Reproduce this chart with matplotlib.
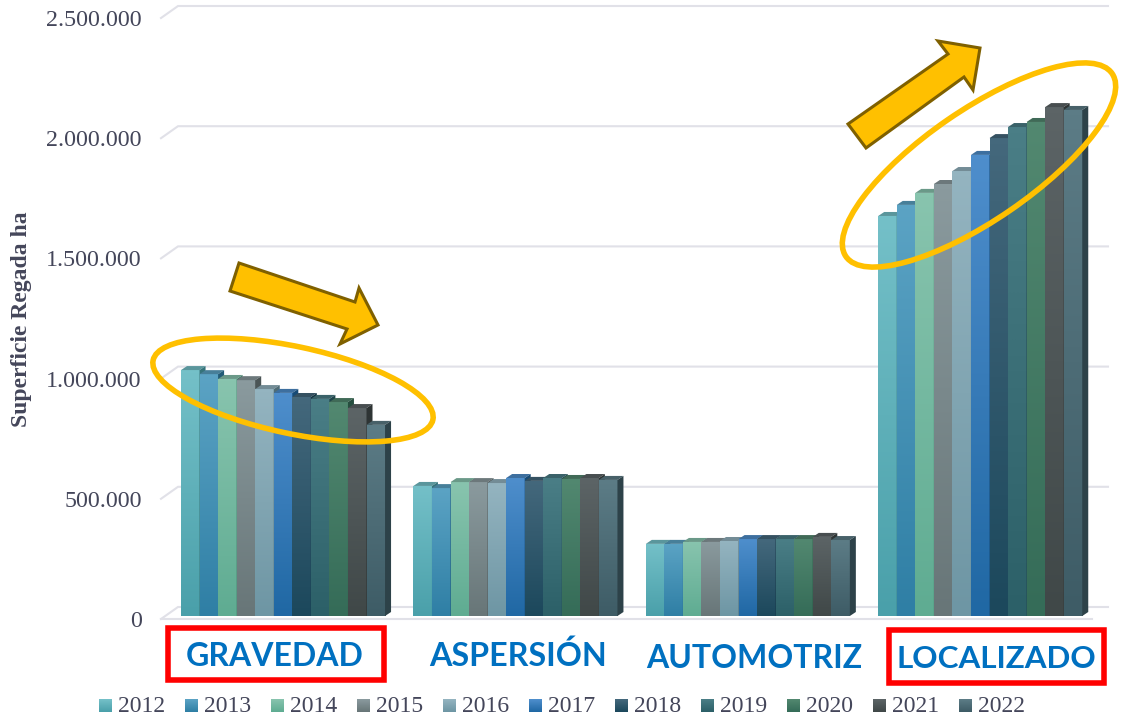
"""
plot.py
Superficie regada por tipo de riego, 2012-2022, 3D-look clustered columns.
Output: out.png
"""

import numpy as np
import matplotlib
matplotlib.use("Agg")
import matplotlib.pyplot as plt
from matplotlib.colors import LinearSegmentedColormap, to_rgb
from matplotlib.patches import Ellipse, Polygon, Rectangle
from matplotlib.ticker import FuncFormatter
from matplotlib.transforms import Affine2D

YEARS = ["2012", "2013", "2014", "2015", "2016", "2017",
         "2018", "2019", "2020", "2021", "2022"]
METHODS = ["GRAVEDAD", "ASPERSIÓN", "AUTOMOTRIZ", "LOCALIZADO"]

GRAVEDAD = [1023000, 1006000, 986000, 981000, 944000, 928000,
            911000, 903000, 890000, 865000, 795000]
ASPERSION = [541000, 532000, 557000, 557000, 553000, 574000,
             562000, 574000, 570000, 574000, 566000]
AUTOMOTRIZ = [300000, 300000, 308000, 308000, 312000, 320000,
              320000, 320000, 320000, 329000, 316000]
LOCALIZADO = [1664000, 1710000, 1760000, 1797000, 1851000, 1918000,
              1988000, 2034000, 2055000, 2117000, 2105000]
VALUES = [GRAVEDAD, ASPERSION, AUTOMOTRIZ, LOCALIZADO]

YTICKS = [0, 500000, 1000000, 1500000, 2000000, 2500000]

TOP_COLORS = ["#74C0C8", "#5BA3C4", "#88C4AE", "#8A9A9E", "#94B4C0", "#4E8ECC",
              "#44687C", "#4A7E86", "#528870", "#5C6466", "#5C7C86"]
BOTTOM_COLORS = ["#4AA0AA", "#2F7FA5", "#5FAC92", "#687678", "#6E96A4", "#2068A4",
                 "#1C485C", "#2C6068", "#356C58", "#404848", "#3E5C66"]

# layout, in pixels of the 1128x721 picture
W, H = 1128, 721
AX_LEFT, AX_BOTTOM = 150, 640
ZERO_Y = 619
VALUE_PER_PX = 500000 / 120.2
BAR_PX = 18.55
FIRST_BAR_PX = 181
GROUP_STEP = 232.4 / BAR_PX
BAR_LIFT = 3 * VALUE_PER_PX       # bars stand a little behind the front edge
DEPTH_X = 6 / BAR_PX
DEPTH_Y = 4 * VALUE_PER_PX
GRID_DX = 17 / BAR_PX
GRID_DY = 12 * VALUE_PER_PX
GRID_END = (1108 - FIRST_BAR_PX) / BAR_PX
FLOOR_END = (1092 - FIRST_BAR_PX) / BAR_PX
GRID_START = (161 - FIRST_BAR_PX) / BAR_PX

GRID_COLOR = "#E1E1E8"
TEXT_COLOR = "#44465A"
BLUE = "#0070C0"
GOLD = "#FFC000"
GOLD_EDGE = "#7F6000"
SERIF = "Liberation Serif"

LEGEND_STEP = 86
LEGEND_START = 99
LABEL_X = [275, 518, 754, 996]
LABEL_Y = [656, 656, 659, 659]
LABEL_SIZE = [23, 23.2, 23, 22.6]


def darker(color, factor):
    return tuple(c * factor for c in to_rgb(color))


def draw_bar(ax, x, value, i):
    base, top = BAR_LIFT, BAR_LIFT + value
    bar = ax.bar(x, value, width=1.0, bottom=base, align="edge",
                 color=TOP_COLORS[i], linewidth=0, zorder=3)[0]
    cmap = LinearSegmentedColormap.from_list(
        "fade", [BOTTOM_COLORS[i], TOP_COLORS[i]])
    im = ax.imshow(np.linspace(1, 0, 64).reshape(-1, 1), cmap=cmap, vmin=0, vmax=1,
                   extent=(x, x + 1, base, top), aspect="auto",
                   interpolation="bilinear", zorder=3)
    im.set_clip_path(bar)
    ax.add_patch(Polygon([(x, top), (x + 1, top), (x + 1 + DEPTH_X, top + DEPTH_Y),
                          (x + DEPTH_X, top + DEPTH_Y)],
                         facecolor=darker(TOP_COLORS[i], 0.78), linewidth=0, zorder=3))
    ax.add_patch(Polygon([(x + 1, base), (x + 1 + DEPTH_X, base + DEPTH_Y),
                          (x + 1 + DEPTH_X, top + DEPTH_Y), (x + 1, top)],
                         facecolor=darker(BOTTOM_COLORS[i], 0.72), linewidth=0, zorder=3))


if __name__ == "__main__":
    fig = plt.figure(figsize=(W / 100, H / 100), dpi=100, facecolor="white")
    ax = fig.add_axes([AX_LEFT / W, (H - AX_BOTTOM) / H, 1 - AX_LEFT / W, AX_BOTTOM / H])
    ax.set_facecolor("none")
    xlim = ((AX_LEFT - FIRST_BAR_PX) / BAR_PX, (W - FIRST_BAR_PX) / BAR_PX)
    ylim = (-(AX_BOTTOM - ZERO_Y) * VALUE_PER_PX, ZERO_Y * VALUE_PER_PX)

    # gridlines: short slanted stub on the side wall, then along the back wall
    for v in YTICKS:
        ax.plot([GRID_START, GRID_START + GRID_DX, GRID_END],
                [v, v + GRID_DY, v + GRID_DY],
                color=GRID_COLOR, lw=1.5, zorder=1, solid_joinstyle="miter")
    ax.plot([GRID_START, FLOOR_END], [0, 0], color=GRID_COLOR, lw=1.5, zorder=1)

    for g, values in enumerate(VALUES):
        for i, value in enumerate(values):
            draw_bar(ax, g * GROUP_STEP + i, value, i)

    ax.set_xlim(xlim)
    ax.set_ylim(ylim)
    ax.set_xticks([])
    ax.set_yticks(YTICKS)
    ax.yaxis.set_major_formatter(FuncFormatter(lambda v, _: f"{v:,.0f}".replace(",", ".")))
    ax.tick_params(axis="y", length=0, pad=6, labelsize=17.3, labelcolor=TEXT_COLOR)
    for label in ax.get_yticklabels():
        label.set_family(SERIF)
    for spine in ax.spines.values():
        spine.set_visible(False)
    ax.set_ylabel("Superficie Regada ha", family=SERIF, weight="bold",
                  fontsize=17, color=TEXT_COLOR, va="center")
    ax.yaxis.set_label_coords((22 - AX_LEFT) / (W - AX_LEFT), (AX_BOTTOM - 319) / AX_BOTTOM)

    # annotations sit in picture pixels, y pointing down
    px = Affine2D().scale(1, -1).translate(0, H)

    for name, x, y, size in zip(METHODS, LABEL_X, LABEL_Y, LABEL_SIZE):
        ax.text(x, y, name, transform=px, family="Lato", weight="bold", fontsize=size,
                color=BLUE, ha="center", va="center", clip_on=False, zorder=6)

    for x0, y0, x1, y1 in [(168, 628, 384, 680), (889, 630, 1104, 683)]:
        ax.add_patch(Rectangle((x0, y0), x1 - x0, y1 - y0, transform=px, fill=False,
                               edgecolor="#FF0000", lw=4, joinstyle="miter",
                               clip_on=False, zorder=6))

    for xy, w, h, angle in [((293, 390), 286, 87, 12), ((979, 165), 323, 110, -34.5)]:
        ax.add_patch(Ellipse(xy, w, h, angle=angle, transform=px, fill=False,
                             edgecolor=GOLD, lw=4, clip_on=False, zorder=5))

    arrows = [
        [(239, 263), (230, 291), (347, 329), (340, 344), (378, 325), (359, 288), (355, 302)],
        [(848, 124), (866, 148), (964, 77), (973, 90), (980, 48), (938, 41), (948, 54)],
    ]
    for pts in arrows:
        ax.add_patch(Polygon(pts, transform=px, facecolor=GOLD, edgecolor=GOLD_EDGE,
                             lw=2.2, joinstyle="miter", clip_on=False, zorder=6))

    # legend row drawn by hand so the swatches can keep the bar gradient
    for i, year in enumerate(YEARS):
        x = LEGEND_START + i * LEGEND_STEP
        cmap = LinearSegmentedColormap.from_list("fade", [BOTTOM_COLORS[i], TOP_COLORS[i]])
        ax.imshow(np.linspace(1, 0, 16).reshape(-1, 1), cmap=cmap, vmin=0, vmax=1,
                  extent=(x, x + 13, 712, 699), aspect="auto", transform=px,
                  clip_on=False, zorder=6)
        ax.text(x + 19, 706.5, year, transform=px, family=SERIF, fontsize=17,
                color=TEXT_COLOR, ha="left", va="center", clip_on=False, zorder=6)

    ax.set_xlim(xlim)
    ax.set_ylim(ylim)
    fig.savefig("out.png", dpi=100)
